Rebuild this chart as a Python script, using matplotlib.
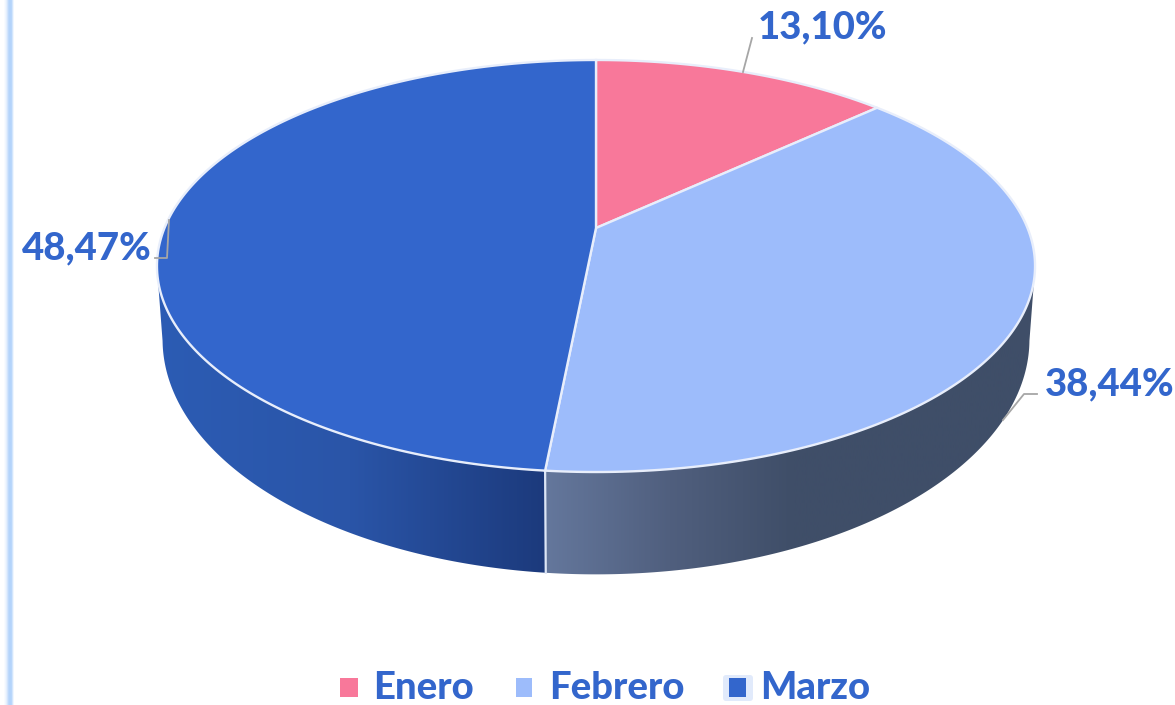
import numpy as np
import matplotlib
matplotlib.use("Agg")
import matplotlib.pyplot as plt
from matplotlib.colors import LinearSegmentedColormap
from matplotlib.patches import Polygon, Rectangle, FancyBboxPatch

categories = ["Enero", "Febrero", "Marzo"]
values = [13.10, 38.44, 48.47]
colors = ["#f8789a", "#9dbcfb", "#3366cc"]
text_color = "#3366cc"
font = "Lato"

W, H = 1175, 705
# top face and bottom rim, perspective circle in pixels
CX, CY, DX, AY = 596, 228, 431.5, 199
BX, BY, BDX, BAY = 596, 296, 426, 227
PERSP = 0.1845


def rim(theta, cx, cy, dx, ay):
    t = np.radians(theta)
    k = 1 + PERSP * np.cos(t)
    return cx + dx * np.sin(t) / k, cy - ay * np.cos(t) / k


fig = plt.figure(figsize=(W / 100, H / 100), dpi=100)
ax = fig.add_axes([0, 0, 1, 1])


def gradient(x0, x1, cols, clip=None, zorder=1):
    cmap = LinearSegmentedColormap.from_list("g", cols)
    im = ax.imshow(np.linspace(0, 1, 256)[None, :], cmap=cmap, aspect="auto",
                   extent=[x0, x1, H, 0], zorder=zorder)
    if clip is not None:
        im.set_clip_path(clip)


# stripe on the left edge
gradient(4, 14, ["#ffffff", "#e6f0fe", "#b4d4fb", "#b4d4fb", "#ffffff"])

shares = np.array(values) / sum(values) * 360
edges = np.concatenate([[0], np.cumsum(shares)])

# sides, only what faces the viewer, cut where the rim turns away
side_parts = [
    (101, edges[2], 546, 1040, ["#64779c", "#505f7e", "#3f4e68", "#3f4e68", "#3f4e68"]),
    (edges[2], 259, 155, 546, ["#2c5cb4", "#2a55a8", "#1c3a7c"]),
]
for a, b, x0, x1, cols in side_parts:
    th = np.linspace(a, b, 200)
    xt, yt = rim(th, CX, CY, DX, AY)
    xb, yb = rim(th, BX, BY, BDX, BAY)
    poly = Polygon(np.r_[np.c_[xt, yt], np.c_[xb, yb][::-1]], closed=True,
                   fc="none", ec="none", transform=ax.transData)
    ax.add_patch(poly)
    gradient(x0, x1, cols, clip=poly, zorder=1)

# edge between the two visible sides
xs, ys = rim(edges[2], CX, CY, DX, AY)
xs2, ys2 = rim(edges[2], BX, BY, BDX, BAY)
ax.plot([xs, xs2], [ys, ys2], color="#dde6f6", lw=1.6, zorder=2)

# top face
for i in range(len(values)):
    th = np.linspace(edges[i], edges[i + 1], 200)
    xt, yt = rim(th, CX, CY, DX, AY)
    pts = np.r_[[[CX, CY]], np.c_[xt, yt]]
    ax.add_patch(Polygon(pts, closed=True, fc=colors[i], ec="#e8eefb", lw=1.7,
                         zorder=3))

# leader lines
leaders = [
    ([743, 752], [72, 38]),
    ([1003, 1024, 1037], [420, 394, 394]),
    ([155, 167, 169], [258, 258, 220]),
]
for lx, ly in leaders:
    ax.plot(lx, ly, color="#a6a6a6", lw=1.3, zorder=4)

# data labels
label_pos = [(758, 38), (1045, 395), (22, 259)]
for v, (x, y) in zip(values, label_pos):
    ax.text(x, y, f"{v:.2f}%".replace(".", ","), color=text_color, fontsize=27.5,
            fontweight=900, family=font, ha="left", va="baseline", zorder=5)

# legend
ax.add_patch(FancyBboxPatch((723, 675), 30, 26, boxstyle="round,pad=0,rounding_size=3",
                            fc="#e1eafb", ec="none", zorder=4))
leg_marker = [(340, 18), (516, 16), (729, 17)]
leg_text = [373, 549, 760]
for name, c, (mx, ms), tx in zip(categories, colors, leg_marker, leg_text):
    ax.add_patch(Rectangle((mx, 678), ms, 19, fc=c, ec="none", zorder=5))
    ax.text(tx, 699, name, color=text_color, fontsize=27.5, fontweight=900,
            family=font, ha="left", va="baseline", zorder=5)

ax.set_xlim(0, W)
ax.set_ylim(H, 0)
ax.axis("off")
fig.savefig("out.png", dpi=100, facecolor="white")
